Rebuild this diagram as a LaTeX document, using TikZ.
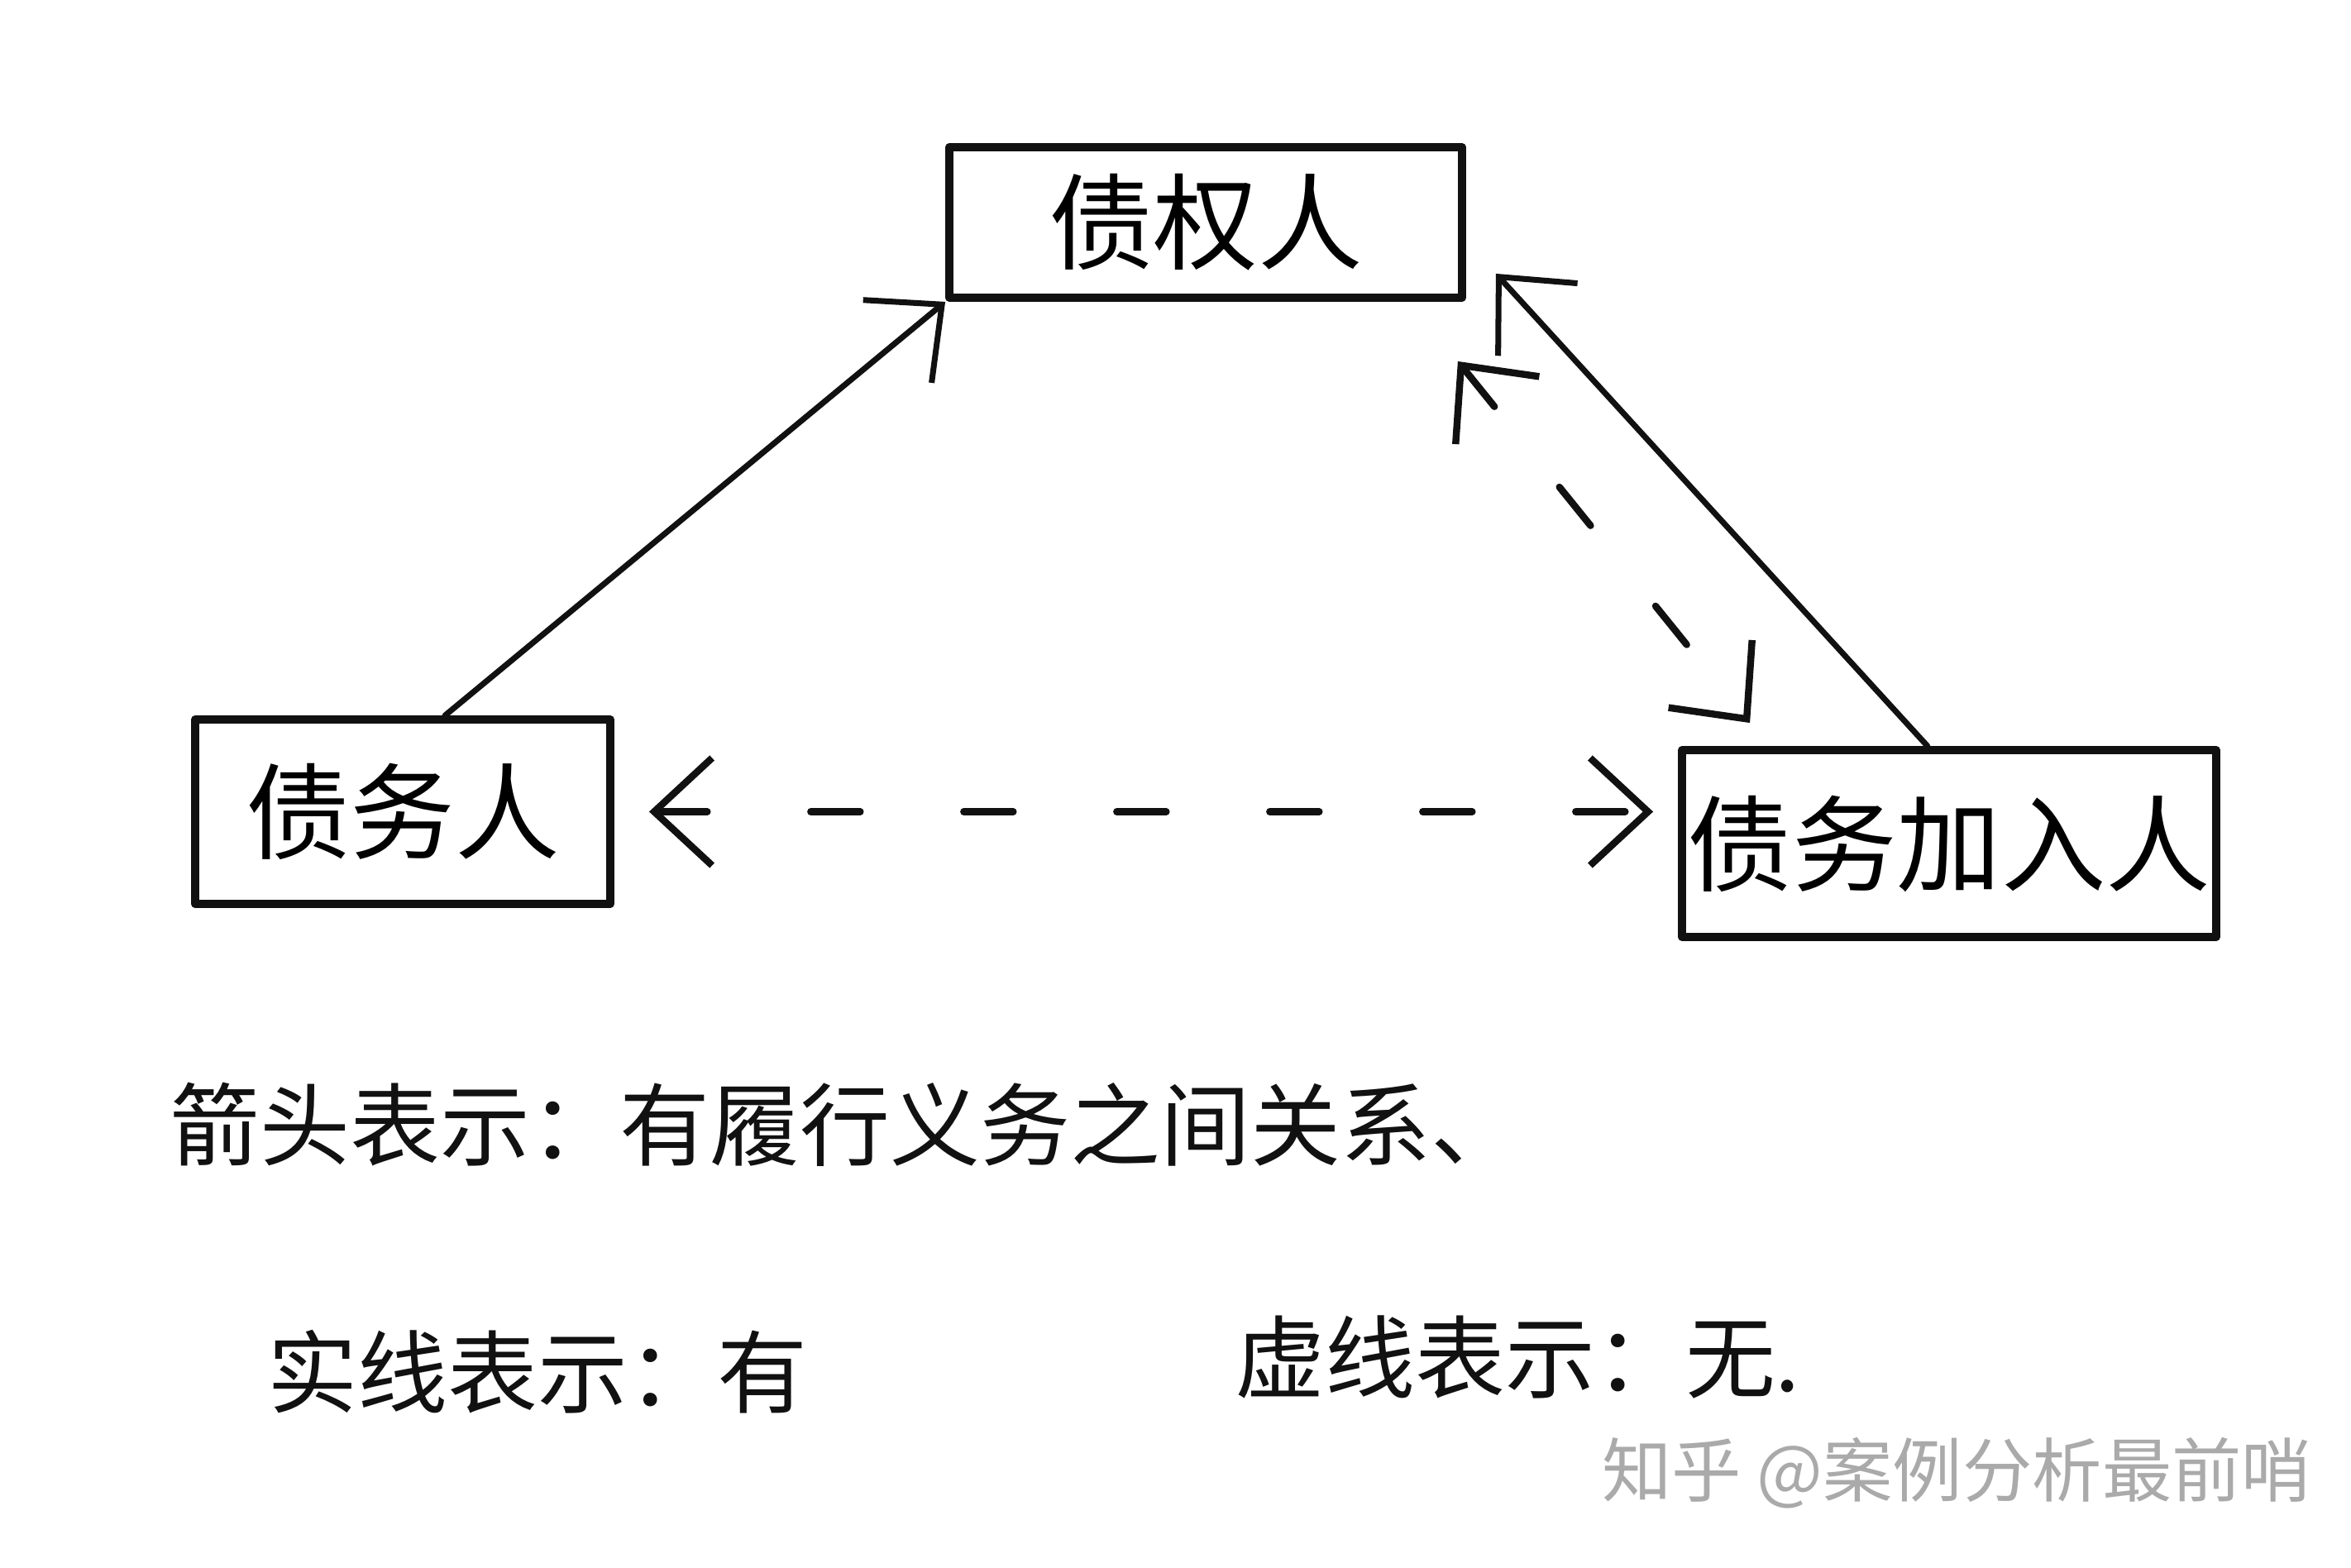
\documentclass[tikz,border=0pt]{standalone}
\usepackage{fontspec}
\setmainfont{Noto Sans CJK SC}
\usetikzlibrary{arrows.meta, positioning, calc}
\definecolor{cink}{HTML}{111111}
\definecolor{cmark}{HTML}{AAAAAA}
\tikzset{
  every picture/.style={line width=2pt, line cap=round, line join=round},
  box/.style={draw=cink, line width=2.8pt, inner sep=0pt, font=\fontsize{36}{40}\selectfont},
  arrow/.style={-{Straight Barb[length=7mm, width=13mm]}, draw=cink, line width=2pt},
  both/.style={{Straight Barb[length=7mm, width=13mm]}-{Straight Barb[length=7mm, width=13mm]}, draw=cink, line width=2.4pt, dash pattern=on 6mm off 12.5mm},
  note/.style={anchor=west, text=cink, font=\fontsize{31}{36}\selectfont},
  wmark/.style={anchor=west, text=cmark, font=\fontsize{24}{28}\selectfont},
}

\begin{document}
\begin{tikzpicture}[x=1cm, y=1cm]
  \useasboundingbox (0,0) rectangle (28.43,18.95);
  % parties
  \node[box, minimum width=6.2cm, minimum height=1.82cm] (creditor) at (14.58,16.26) {债权人};
  \node[box, minimum width=5.02cm, minimum height=2.23cm] (debtor) at (4.87,9.135) {债务人};
  \node[box, minimum width=6.46cm, minimum height=2.26cm] (joiner) at (23.57,8.75) {债务加入人};
  % links
  \draw[arrow] ($(debtor.north west)!0.6!(debtor.north east)$) -- (creditor.south west);
  \draw[arrow] ($(joiner.north west)!0.46!(joiner.north east)$) -- ($(creditor.south east)+(0.36,0.34)$);
  \draw[both, shorten >=0.3cm, shorten <=0.42cm] (debtor.east) -- (debtor.east -| joiner.west);
  \draw[both] ($(creditor.south east)+(-0.1,-0.72)$) -- ($(joiner.north west)+(0.87,0.28)$);
  % legend
  \node[note] (legend) at (1.9,5.35) {箭头表示：有履行义务之间关系、};
  \node[note] (solidnote) at (3.08,2.36) {实线表示：有};
  \node[note] (dashnote) at (14.78,2.54) {虚线表示：无.};
  \node[wmark] (zhihu) at (19.22,1.14) {知乎 @案例分析最前哨};
\end{tikzpicture}
\end{document}
